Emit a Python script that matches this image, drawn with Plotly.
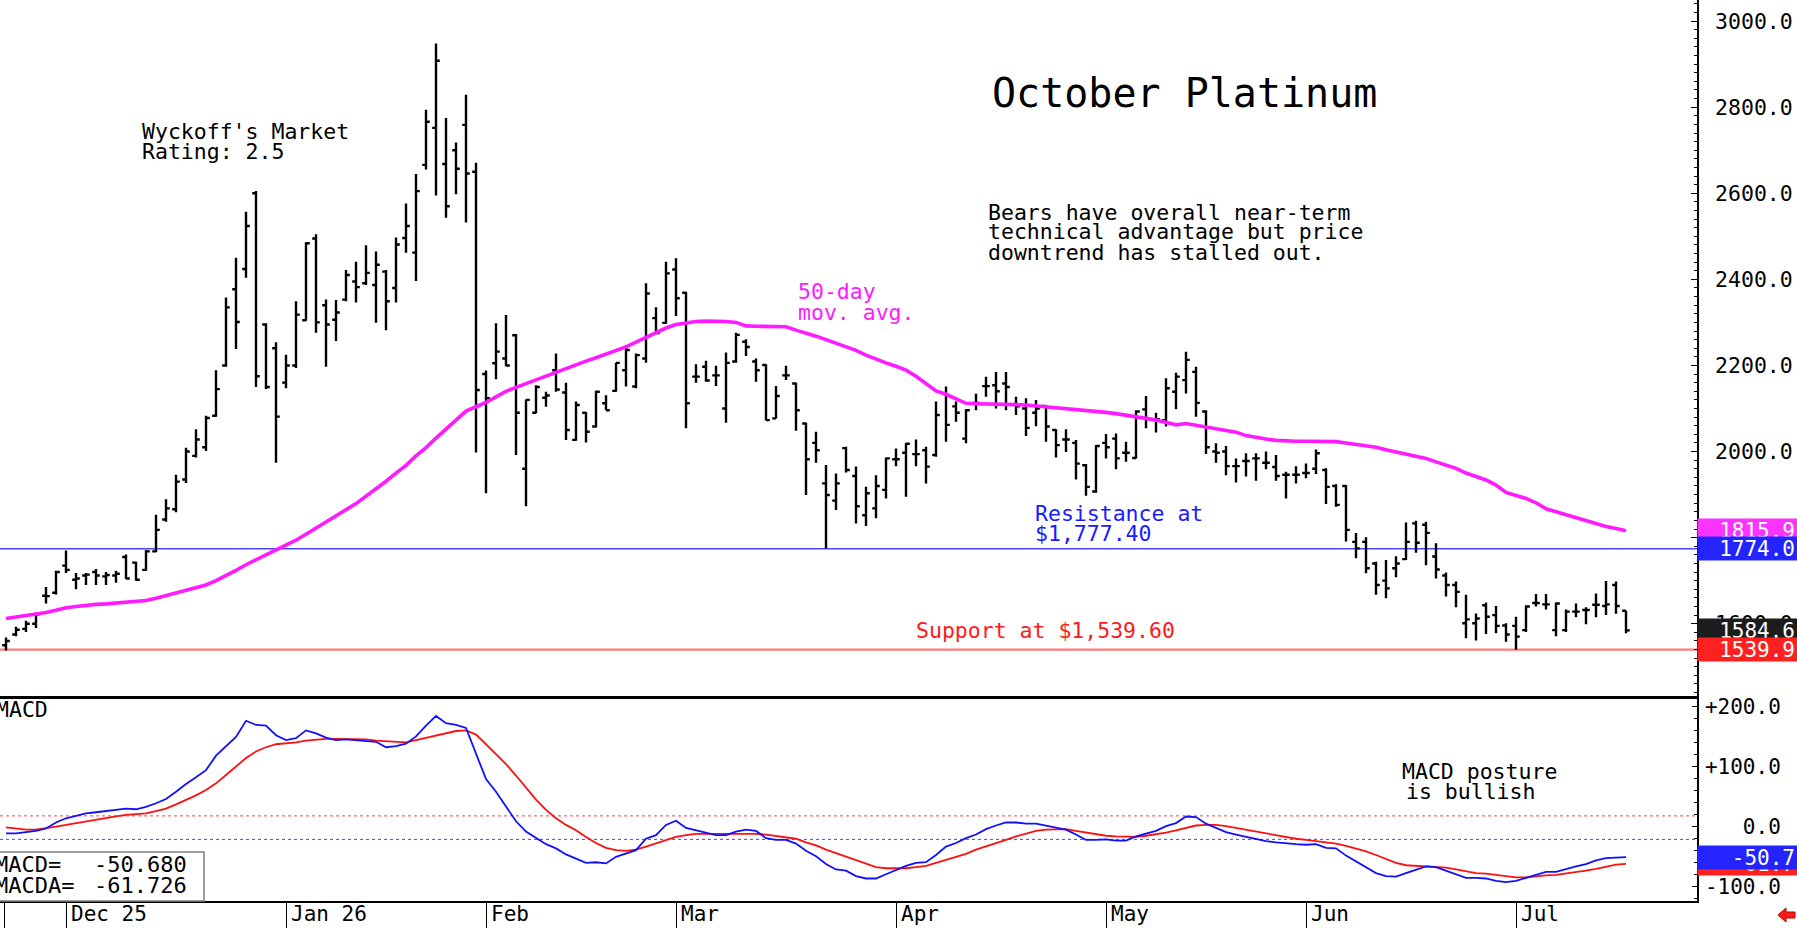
import plotly.graph_objects as go

# ---------------- data ----------------
opens = [1550,1575,1588,1600,1665,1672,1735,1702,1712,1720,
         1710,1712,1755,1742,1725,1768,1842,1866,1935,1990,
         2010,2083,2200,2377,2424,2600,2295,2240,2160,2200,
         2305,2495,2340,2306,2353,2395,2391,2387,2418,2380,
         2496,2462,2666,2752,2668,2700,2759,2650,2180,2205,
         2216,2270,1960,2090,2125,2189,2137,2027,2090,2058,
         2112,2141,2189,2151,2216,2310,2299,2423,2369,2174,
         2197,2177,2100,2209,2255,2209,2201,2077,2177,2158,
         2065,2020,1926,1886,2008,1943,1852,1868,1911,1982,
         1997,1994,2003,1992,2135,2105,2030,2113,2152,2154,
         2158,2110,2100,2090,2106,2050,2028,2020,1968,1907,
         2020,2030,1997,1985,2098,2075,2073,2139,2166,2185,
         2093,2000,2000,1966,1978,1984,1974,1964,1946,1946,
         1950,1960,1957,1920,1920,1790,1790,1740,1700,1729,
         1750,1833,1830,1756,1712,1690,1601,1601,1643,1620,
         1596,1595,1585,1648,1645,1585,1585,1628,1632,1644,
         1641,1690,1630]
highs = [1568,1593,1607,1626,1685,1723,1770,1718,1718,1727,
         1720,1723,1761,1744,1771,1853,1889,1946,2009,2052,
         2083,2189,2358,2450,2557,2605,2298,2254,2225,2349,
         2486,2505,2353,2352,2422,2441,2479,2465,2422,2497,
         2576,2645,2794,2948,2775,2718,2829,2671,2188,2298,
         2317,2273,2121,2154,2139,2228,2160,2116,2092,2141,
         2131,2206,2247,2228,2391,2335,2441,2449,2371,2203,
         2211,2199,2230,2276,2261,2216,2203,2152,2199,2160,
         2067,2046,1969,1949,2011,1965,1918,1945,1986,2007,
         2020,2028,2011,2116,2151,2116,2098,2134,2174,2185,
         2185,2127,2124,2120,2108,2052,2052,2027,1971,2015,
         2041,2042,2023,2096,2129,2090,2170,2183,2232,2197,
         2096,2019,2013,1984,1996,1996,2000,1992,1953,1966,
         1972,2005,1961,1924,1922,1811,1801,1744,1748,1757,
         1835,1839,1837,1787,1719,1698,1667,1624,1649,1641,
         1601,1616,1643,1669,1669,1649,1633,1647,1638,1670,
         1699,1698,1630]
lows = [1538,1571,1581,1590,1647,1668,1718,1680,1690,1690,
        1690,1695,1704,1700,1723,1766,1837,1859,1927,1986,
        2001,2081,2197,2238,2404,2150,2145,1974,2147,2194,
        2304,2276,2197,2257,2349,2346,2387,2299,2282,2346,
        2462,2396,2655,2595,2543,2598,2532,1998,1903,2168,
        2198,1992,1873,2089,2104,2139,2027,2025,2021,2056,
        2096,2139,2151,2147,2206,2273,2296,2315,2054,2160,
        2162,2152,2067,2206,2222,2162,2072,2077,2166,2048,
        1899,1974,1775,1864,1951,1833,1827,1845,1891,1966,
        1895,1966,1926,1988,2023,2069,2019,2096,2127,2100,
        2096,2085,2036,2059,2023,1986,1999,1935,1897,1904,
        1984,1959,1976,1984,2054,2044,2058,2098,2135,2081,
        1994,1974,1945,1928,1942,1932,1959,1932,1891,1926,
        1938,1948,1878,1872,1791,1752,1717,1667,1659,1708,
        1748,1765,1736,1705,1663,1638,1566,1561,1576,1578,
        1558,1539.6,1581,1640,1633,1571,1581,1615,1599,1615,
        1620,1623,1578]
closes = [1560,1586,1600,1622,1664,1720,1725,1705,1714,1712,
          1713,1716,1705,1702,1768,1818,1868,1930,2000,2028,
          2078,2145,2335,2301,2524,2175,2150,2081,2200,2318,
          2484,2300,2295,2323,2410,2382,2415,2434,2349,2481,
          2524,2605,2766,2908,2570,2657,2646,2143,2124,2232,
          2200,2090,2120,2150,2130,2144,2050,2108,2046,2139,
          2096,2206,2236,2224,2367,2275,2414,2356,2112,2174,
          2165,2177,2206,2271,2243,2189,2073,2129,2177,2096,
          1982,2003,1899,1926,1957,1873,1903,1920,1984,1982,
          2018,1994,1965,2085,2062,2090,2096,2113,2152,2140,
          2150,2105,2055,2100,2058,2015,2028,1972,1918,2013,
          2010,1984,1997,2093,2077,2075,2147,2174,2213,2113,
          2010,1997,1966,1966,1978,1984,1974,1943,1946,1946,
          1950,1996,1918,1876,1818,1775,1729,1690,1682,1740,
          1790,1788,1811,1726,1690,1674,1610,1612,1616,1595,
          1575,1570,1640,1648,1645,1647,1628,1628,1632,1644,
          1645,1641,1584.6]
ma50 = [1612,1615,1618,1621,1626,1631,1637,1640,1643,1645,
        1646,1648,1650,1652,1654,1659,1665,1670,1676,1683,
        1690,1700,1711,1724,1737,1748,1760,1771,1782,1794,
        1808,1822,1835,1849,1863,1879,1896,1913,1931,1950,
        1968,1990,2009,2031,2052,2073,2094,2104,2114,2127,
        2140,2149,2158,2167,2176,2185,2194,2202,2210,2218,
        2226,2234,2243,2254,2265,2277,2287,2295,2299,2302,
        2303,2303,2302,2300,2292,2291,2291,2290,2290,2282,
        2276,2268,2260,2252,2244,2235,2224,2214,2206,2198,
        2189,2175,2158,2141,2133,2123,2112,2111,2111,2110,
        2109,2109,2108,2106,2105,2103,2101,2099,2096,2094,
        2091,2088,2085,2082,2077,2073,2068,2062,2065,2061,
        2057,2054,2050,2045,2037,2032,2029,2026,2024,2024,
        2024,2024,2023,2023,2020,2017,2013,2010,2004,1999,
        1994,1989,1984,1976,1968,1961,1950,1941,1934,1922,
        1905,1898,1891,1881,1867,1860,1853,1847,1840,1832,
        1826,1821,1815.9]
macd = [-11,-11,-9,-7,-3,7,14,18,22,24,
        26,27,30,29,33,39,46,58,71,82,
        94,118,134,149,176,169,168,152,144,147,
        160,155,148,144,145,144,143,141,132,134,
        138,150,168,184,172,169,164,122,79,58,
        34,9,-8,-19,-29,-36,-46,-53,-60,-59,
        -61,-50,-44,-39,-20,-14,3,10,-2,-6,
        -11,-14,-14,-8,-5,-7,-19,-22,-22,-28,
        -40,-49,-62,-71,-73,-82,-86,-86,-79,-72,
        -65,-60,-59,-47,-33,-27,-19,-13,-4,2,
        7,7,5,5,2,-1,-5,-13,-22,-22,
        -21,-23,-23,-16,-12,-7,1,6,17,16,
        5,-2,-9,-13,-17,-21,-24,-26,-28,-29,
        -30,-29,-35,-36,-48,-58,-67,-77,-82,-83,
        -77,-72,-66,-67,-73,-78,-85,-85,-86,-90,
        -92,-90,-85,-79,-75,-75,-70,-66,-62,-56,
        -52,-51,-50.68]
macda = [-1,-3,-5,-5,-3,0,3,6,9,12,
         15,17,19.5,21,22,26,30,37,44,52,
         61,72,86,100,114,125,132,137,138,140,
         143,145,146,146,146,145,145,143,142,141,
         140,144,148,152,156,159,160,153,137,121,
         104,85,65,45,28,14,3,-6,-17,-27,
         -35,-39,-40,-38,-33,-28,-22,-17,-14,-12,
         -12,-12,-11,-11,-11,-12,-13,-15,-17,-20,
         -26,-31,-38,-44,-50,-56,-62,-67,-69,-69,
         -69,-67,-65,-60,-55,-50,-45,-38,-33,-28,
         -22,-16,-11,-7,-5,-4,-4,-7,-10,-13,
         -15,-16,-17,-17,-15,-13,-10,-6,-2,2,
         3,3,1,-2,-5,-8,-11,-14,-18,-20,
         -22,-24,-25,-28,-32,-36,-41,-47,-54,-60,
         -64,-65,-66,-66,-68,-71,-74,-77,-78,-80,
         -82,-84,-84,-82,-81,-80,-78,-75,-73,-70,
         -66,-63,-61.726]
month_labels = ["Dec 25", "Jan 26", "Feb", "Mar", "Apr", "May", "Jun", "Jul"]
month_start = [6, 28, 48, 67, 89, 110, 130, 151]
resistance_level = 1774.0
support_level = 1539.9
macd_ref_hi = 18
macd_ref_lo = -21
macd_tick_vals = [200, 100, 0, -100]
macd_tick_text = ["+200.0", "+100.0", "\u00a0\u00a0\u00a00.0", "-100.0"]

# ---------------- layout helpers ----------------
MONO = "DejaVu Sans Mono"
PLOT_R = 1697   # pixel x of right edge of plot area
PLOT_B = 901    # pixel y of bottom of plot area


def px(x):
    return x / PLOT_R


def py(y):
    return (PLOT_B - y) / PLOT_B


n = len(closes)
xs = list(range(n))

fig = go.Figure()

fig.add_trace(go.Scatter(x=xs, y=ma50, mode="lines", xaxis="x", yaxis="y",
                         line=dict(color="#ff1aff", width=3.6), hoverinfo="skip"))
fig.add_trace(go.Ohlc(x=xs, open=opens, high=highs, low=lows, close=closes,
                      xaxis="x", yaxis="y",
                      increasing=dict(line=dict(color="black", width=2.4)),
                      decreasing=dict(line=dict(color="black", width=2.4)),
                      tickwidth=0.38, hoverinfo="skip"))
fig.add_trace(go.Scatter(x=xs, y=macda, mode="lines", xaxis="x2", yaxis="y2",
                         line=dict(color="#ff1010", width=1.8), hoverinfo="skip"))
fig.add_trace(go.Scatter(x=xs, y=macd, mode="lines", xaxis="x2", yaxis="y2",
                         line=dict(color="#1010ff", width=1.8), hoverinfo="skip"))

shapes = [
    dict(type="line", xref="paper", x0=0, x1=1, yref="y", y0=resistance_level, y1=resistance_level,
         line=dict(color="#4646ff", width=1.6), layer="below"),
    dict(type="line", xref="paper", x0=0, x1=1, yref="y", y0=support_level, y1=support_level,
         line=dict(color="#ff7a7a", width=2.2), layer="below"),
    dict(type="line", xref="paper", x0=0, x1=1, yref="y2", y0=macd_ref_hi, y1=macd_ref_hi,
         line=dict(color="#ff4040", width=1, dash="dot"), layer="below"),
    dict(type="line", xref="paper", x0=0, x1=1, yref="y2", y0=macd_ref_lo, y1=macd_ref_lo,
         line=dict(color="#4040ff", width=1, dash="dot"), layer="below"),
    # MACD value box
    dict(type="rect", xref="paper", yref="paper", x0=px(-3), x1=px(204), y0=py(852), y1=py(901),
         line=dict(color="#7f7f7f", width=1.5), fillcolor="white", layer="above"),
    # small red arrow bottom-right
    dict(type="path", xref="paper", yref="paper",
         path=(f"M {px(1778)} {py(915)} L {px(1786)} {py(908)} L {px(1786)} {py(912)} "
               f"L {px(1795)} {py(912)} L {px(1795)} {py(918)} L {px(1786)} {py(918)} "
               f"L {px(1786)} {py(922)} Z"),
         fillcolor="#ff1a1a", line=dict(color="#b00000", width=1)),
]

ann = []


def text_ann(txt, x, y, size, color):
    ann.append(dict(text=txt, x=px(x), y=py(y), xref="paper", yref="paper",
                    xanchor="left", yanchor="middle", showarrow=False,
                    font=dict(family=MONO, size=size, color=color)))


text_ann("October Platinum", 990, 93, 40, "black")
text_ann("Wyckoff's Market", 140, 131, 21.5, "black")
text_ann("Rating: 2.5", 140, 151, 21.5, "black")
text_ann("Bears have overall near-term", 986, 213, 21.5, "black")
text_ann("technical advantage but price", 986, 232, 21.5, "black")
text_ann("downtrend has stalled out.", 986, 252, 21.5, "black")
text_ann("50-day", 796, 292, 21.5, "#ff1aff")
text_ann("mov. avg.", 796, 312, 21.5, "#ff1aff")
text_ann("Resistance at", 1033, 514, 21.5, "#1a1aff")
text_ann("$1,777.40", 1033, 533, 21.5, "#1a1aff")
text_ann("Support at $1,539.60", 914, 630, 21.5, "#ff1a1a")
text_ann("MACD posture", 1400, 771, 21.5, "black")
text_ann("is bullish", 1404, 791, 21.5, "black")
text_ann("MACD", -6, 709, 21.5, "black")
text_ann("MACD=", -7, 864, 22, "black")
text_ann("MACDA=", -7, 885, 22, "black")
text_ann(f"{macd[-1]:.3f}", 92, 864, 22, "black")
text_ann(f"{macda[-1]:.3f}", 92, 885, 22, "black")

# month labels in the date strip
for lab, st in zip(month_labels, month_start):
    ann.append(dict(text=lab, x=st, xref="x2", y=py(913.5), yref="paper",
                    xanchor="left", yanchor="middle", xshift=3, showarrow=False,
                    font=dict(family=MONO, size=21, color="black")))


def value_box(val, axis, color):
    ann.append(dict(text=f"{val:.1f}", x=1, xref="paper", y=val, yref=axis,
                    xanchor="left", yanchor="middle", xshift=0, showarrow=False,
                    width=94, height=17, align="right", bgcolor=color,
                    borderpad=3, font=dict(family=MONO, size=21, color="white")))


value_box(ma50[-1], "y", "#ff33ff")
value_box(resistance_level, "y", "#2424ff")
value_box(closes[-1], "y", "#1c1c1c")
value_box(support_level, "y", "#ff2020")
value_box(macda[-1], "y2", "#ff2020")
value_box(macd[-1], "y2", "#2424ff")

x_range = [-0.6, 169.1]
fig.update_layout(
    width=1797, height=928,
    margin=dict(l=0, r=100, t=0, b=27, pad=0),
    paper_bgcolor="white", plot_bgcolor="white",
    showlegend=False,
    shapes=shapes, annotations=ann,
    xaxis=dict(domain=[0, 1], anchor="y", range=x_range, showgrid=False, zeroline=False,
               showline=True, linecolor="black", linewidth=3, ticks="", showticklabels=False,
               rangeslider=dict(visible=False), fixedrange=True),
    xaxis2=dict(domain=[0, 1], anchor="y2", matches="x", range=x_range, showgrid=False,
                zeroline=False, showline=True, linecolor="black", linewidth=2,
                tickmode="array", tickvals=[-0.15] + month_start, ticks="outside",
                ticklen=27, tickwidth=1, tickcolor="black", showticklabels=False),
    yaxis=dict(domain=[0.2275, 1], anchor="x", side="right", range=[1432, 3049],
               showgrid=False, zeroline=False, showline=True, linecolor="black", linewidth=1.5,
               tickmode="linear", tick0=0, dtick=200, tickformat=".1f",
               ticks="inside", ticklen=6, tickcolor="black", ticklabelstandoff=12,
               minor=dict(tickmode="linear", tick0=0, dtick=20, ticks="inside", ticklen=3,
                          tickcolor="black"),
               tickfont=dict(family=MONO, size=21.5, color="black")),
    yaxis2=dict(domain=[0, 0.2275], anchor="x2", side="right", range=[-123.4, 217.1],
                showgrid=False, zeroline=False, showline=True, linecolor="black", linewidth=1.5,
                tickmode="array", tickvals=macd_tick_vals, ticktext=macd_tick_text,
                ticks="inside", ticklen=5, tickcolor="black", ticklabelstandoff=2,
                minor=dict(tickmode="linear", tick0=0, dtick=20, ticks="inside", ticklen=3,
                           tickcolor="black"),
                tickfont=dict(family=MONO, size=21, color="black")),
)

fig.write_html("out.html")
